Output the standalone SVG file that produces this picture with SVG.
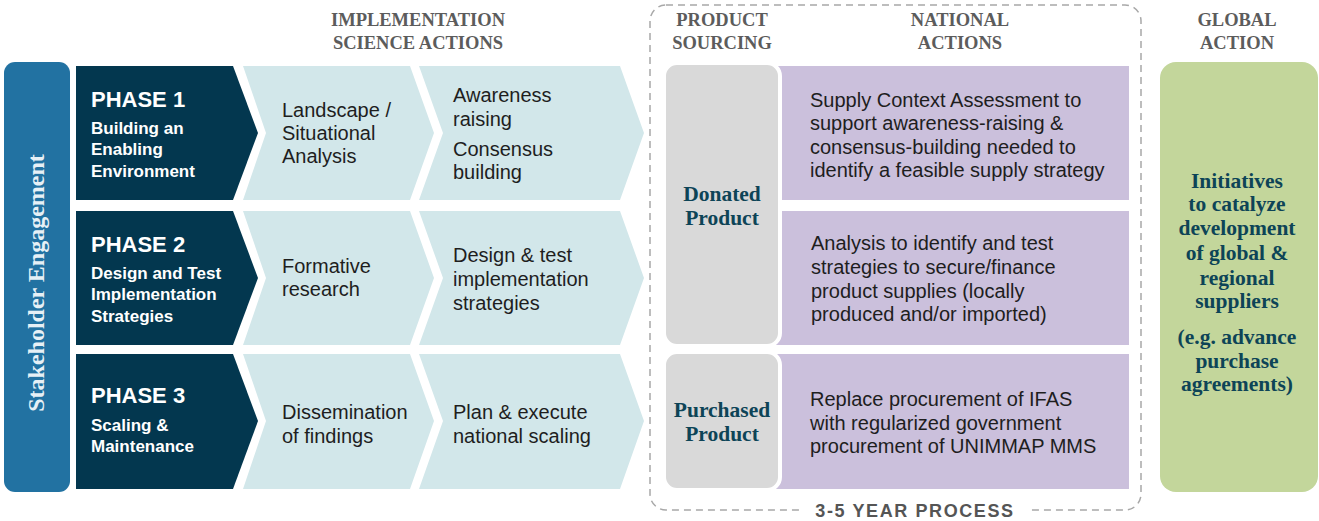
<svg xmlns="http://www.w3.org/2000/svg" width="1319" height="521" viewBox="0 0 1319 521">
<style>
.hdr{font-family:"Liberation Serif",serif;font-weight:bold;font-size:18.5px;fill:#5c5c5c;text-anchor:middle}
.ph{font-family:"Liberation Sans",Arial,sans-serif;font-weight:bold;fill:#ffffff}
.pt{font-size:22px}
.ps{font-size:17px}
.body{font-family:"Liberation Sans",Arial,sans-serif;font-size:20px;fill:#1e1e1e}
.slab{font-family:"Liberation Serif",serif;font-weight:bold;font-size:21.5px;fill:#0d4457;text-anchor:middle}
.dark{fill:#03374f}
.light{fill:#d2e7ea}
.purple{fill:#cbc0dc}
.gray{fill:#d9d9d9;stroke:#ffffff;stroke-width:4}
</style>
<rect x="0" y="0" width="1319" height="521" fill="#ffffff"/>

<g id="process-frame">
<rect x="650" y="5" width="491" height="505" rx="16" fill="none" stroke="#a8a8a8" stroke-width="1.5" stroke-dasharray="7,5"/>
<rect x="802" y="500" width="226" height="21" fill="#ffffff"/>
<text x="915" y="517" font-family="'Liberation Sans',Arial,sans-serif" font-weight="bold" font-size="18px" fill="#555555" text-anchor="middle" letter-spacing="1.6">3-5 YEAR PROCESS</text>
</g>

<g id="headers">
<text class="hdr" x="418" y="26">IMPLEMENTATION</text>
<text class="hdr" x="418" y="49">SCIENCE ACTIONS</text>
<text class="hdr" x="722" y="26">PRODUCT</text>
<text class="hdr" x="722" y="49">SOURCING</text>
<text class="hdr" x="960" y="26">NATIONAL</text>
<text class="hdr" x="960" y="49">ACTIONS</text>
<text class="hdr" x="1237" y="26">GLOBAL</text>
<text class="hdr" x="1237" y="49">ACTION</text>
</g>

<g id="stakeholder">
<rect x="4" y="62" width="66" height="430" rx="11" fill="#2272a2"/>
<text transform="translate(44,283) rotate(-90)" font-family="'Liberation Serif',serif" font-weight="bold" font-size="24px" fill="#e6f0f6" text-anchor="middle">Stakeholder Engagement</text>
</g>

<g id="phase1">
<polygon class="dark" points="76,66 233,66 258,133 233,200 76,200"/>
<text class="ph pt" x="91" y="107">PHASE 1</text>
<text class="ph ps" x="91" y="134">Building an</text>
<text class="ph ps" x="91" y="155">Enabling</text>
<text class="ph ps" x="91" y="177">Environment</text>
</g>
<g id="phase2">
<polygon class="dark" points="76,211 233,211 258,278 233,345 76,345"/>
<text class="ph pt" x="91" y="252">PHASE 2</text>
<text class="ph ps" x="91" y="279">Design and Test</text>
<text class="ph ps" x="91" y="300">Implementation</text>
<text class="ph ps" x="91" y="322">Strategies</text>
</g>
<g id="phase3">
<polygon class="dark" points="76,354 233,354 258,421 233,489 76,489"/>
<text class="ph pt" x="91" y="403">PHASE 3</text>
<text class="ph ps" x="91" y="431">Scaling &amp;</text>
<text class="ph ps" x="91" y="452">Maintenance</text>
</g>

<g id="landscape">
<polygon class="light" points="243,66 410,66 434,133 410,200 243,200 266,133"/>
<text class="body" x="282" y="117">Landscape /</text>
<text class="body" x="282" y="140">Situational</text>
<text class="body" x="282" y="163">Analysis</text>
</g>
<g id="awareness">
<polygon class="light" points="419,66 620,66 644,133 620,200 419,200 443,133"/>
<text class="body" x="453" y="102">Awareness</text>
<text class="body" x="453" y="126">raising</text>
<text class="body" x="453" y="156">Consensus</text>
<text class="body" x="453" y="179">building</text>
</g>
<g id="formative">
<polygon class="light" points="243,211 410,211 434,278 410,345 243,345 266,278"/>
<text class="body" x="282" y="273">Formative</text>
<text class="body" x="282" y="296">research</text>
</g>
<g id="design-test">
<polygon class="light" points="419,211 620,211 644,278 620,345 419,345 443,278"/>
<text class="body" x="453" y="262">Design &amp; test</text>
<text class="body" x="453" y="286">implementation</text>
<text class="body" x="453" y="310">strategies</text>
</g>
<g id="dissemination">
<polygon class="light" points="243,354 410,354 434,421 410,489 243,489 266,421"/>
<text class="body" x="282" y="419">Dissemination</text>
<text class="body" x="282" y="443">of findings</text>
</g>
<g id="plan-execute">
<polygon class="light" points="419,354 620,354 644,421 620,489 419,489 443,421"/>
<text class="body" x="453" y="419">Plan &amp; execute</text>
<text class="body" x="453" y="443">national scaling</text>
</g>

<g id="supply-context">
<rect class="purple" x="776" y="66" width="353" height="134"/>
<text class="body" x="810" y="107">Supply Context Assessment to</text>
<text class="body" x="810" y="130">support awareness-raising &amp;</text>
<text class="body" x="810" y="154">consensus-building needed to</text>
<text class="body" x="810" y="177">identify a feasible supply strategy</text>
</g>
<g id="analysis">
<rect class="purple" x="776" y="211" width="353" height="134"/>
<text class="body" x="811" y="250">Analysis to identify and test</text>
<text class="body" x="811" y="274">strategies to secure/finance</text>
<text class="body" x="811" y="298">product supplies (locally</text>
<text class="body" x="811" y="321">produced and/or imported)</text>
</g>
<g id="replace">
<rect class="purple" x="776" y="354" width="353" height="135"/>
<text class="body" x="810" y="406">Replace procurement of IFAS</text>
<text class="body" x="810" y="430">with regularized government</text>
<text class="body" x="810" y="453">procurement of UNIMMAP MMS</text>
</g>

<g id="donated">
<rect class="gray" x="664" y="63" width="116" height="283" rx="13"/>
<text class="slab" x="722" y="201">Donated</text>
<text class="slab" x="722" y="225">Product</text>
</g>
<g id="purchased">
<rect class="gray" x="664" y="352" width="116" height="138" rx="13"/>
<text class="slab" x="722" y="417">Purchased</text>
<text class="slab" x="722" y="441">Product</text>
</g>

<g id="global">
<rect x="1160" y="62" width="158" height="430" rx="16" fill="#c3d69b"/>
<text class="slab" x="1237" y="188">Initiatives</text>
<text class="slab" x="1237" y="211">to catalyze</text>
<text class="slab" x="1237" y="235">development</text>
<text class="slab" x="1237" y="260">of global &amp;</text>
<text class="slab" x="1237" y="285">regional</text>
<text class="slab" x="1237" y="308">suppliers</text>
<text class="slab" x="1237" y="344">(e.g. advance</text>
<text class="slab" x="1237" y="368">purchase</text>
<text class="slab" x="1237" y="391">agreements)</text>
</g>

<g id="connectors"></g>
</svg>
